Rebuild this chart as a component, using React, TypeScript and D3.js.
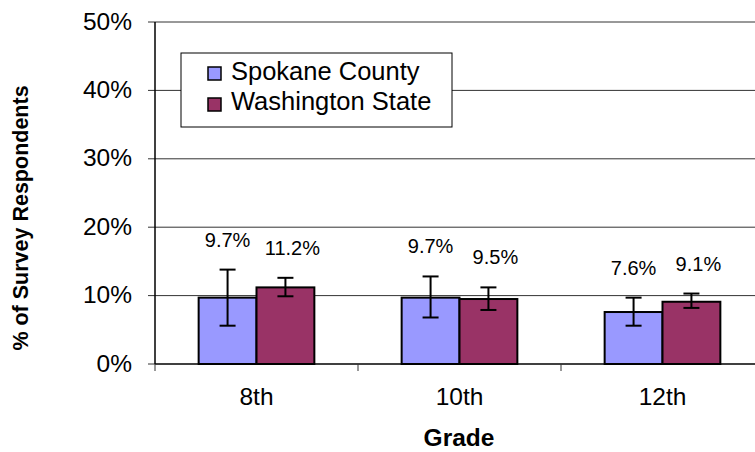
import React from 'react';
import * as d3 from 'd3';

const grades = ['8th', '10th', '12th'];
const seriesNames = ['Spokane County', 'Washington State'];
const spokane = [9.7, 9.7, 7.6];
const washington = [11.2, 9.5, 9.1];
const spokaneLow = [5.6, 6.8, 5.6];
const spokaneHigh = [13.8, 12.8, 9.7];
const washLow = [9.9, 7.9, 8.2];
const washHigh = [12.6, 11.2, 10.3];
const yTicks = [0, 10, 20, 30, 40, 50];
const colors = ['#9999FF', '#993366'];

const W = 755, H = 452;
const left = 155, right = 764, top = 22, bottom = 364;
const FONT = 'Liberation Sans, Arial, sans-serif';

export default function App() {
  const y = d3.scaleLinear().domain([0, 50]).range([bottom, top]);
  const x = d3.scaleBand().domain(grades).range([left, right]).paddingInner(0.43).paddingOuter(0.215);
  const x1 = d3.scaleBand().domain(seriesNames).range([0, x.bandwidth()]);
  const step = x.step();
  const series = [
    { name: seriesNames[0], vals: spokane, lo: spokaneLow, hi: spokaneHigh, dx: 0 },
    { name: seriesNames[1], vals: washington, lo: washLow, hi: washHigh, dx: 7 },
  ];
  return (
    <svg width={W} height={H} style={{ position: 'absolute', left: 0, top: 0, background: '#fff' }} fontFamily={FONT}>
      <rect x={0} y={0} width={W} height={H} fill="#fff" />
      {yTicks.filter(t => t > 0).map(t => (
        <line key={'g' + t} x1={left} x2={W} y1={y(t)} y2={y(t)} stroke="#333" strokeWidth={1} />
      ))}
      {yTicks.map(t => (
        <g key={'t' + t}>
          <line x1={left - 7} x2={left} y1={y(t)} y2={y(t)} stroke="#333" strokeWidth={1} />
          <text x={132} y={y(t) + 7.5} textAnchor="end" fontSize={24.5} fill="#000">{t}%</text>
        </g>
      ))}
      {grades.map((g, i) => (
        <g key={g}>
          {series.map((s, j) => {
            const bx = (x(g) as number) + (x1(s.name) as number);
            const bw = x1.bandwidth();
            const cx = bx + bw / 2;
            return (
              <g key={s.name}>
                <rect x={bx} y={y(s.vals[i])} width={bw} height={y(0) - y(s.vals[i])} fill={colors[j]} stroke="#000" strokeWidth={2} />
                <line x1={cx} x2={cx} y1={y(s.hi[i])} y2={y(s.lo[i])} stroke="#000" strokeWidth={2} />
                <line x1={cx - 8} x2={cx + 8} y1={y(s.hi[i])} y2={y(s.hi[i])} stroke="#000" strokeWidth={2} />
                <line x1={cx - 8} x2={cx + 8} y1={y(s.lo[i])} y2={y(s.lo[i])} stroke="#000" strokeWidth={2} />
                <text x={cx + s.dx} y={y(s.hi[i]) - 23} textAnchor="middle" fontSize={20} fill="#000">{s.vals[i].toFixed(1)}%</text>
              </g>
            );
          })}
          <text x={(x(g) as number) + x.bandwidth() / 2} y={405} textAnchor="middle" fontSize={24.5} fill="#000">{g}</text>
        </g>
      ))}
      <line x1={left} x2={W} y1={y(0)} y2={y(0)} stroke="#000" strokeWidth={1.5} />
      {d3.range(grades.length + 1).map(i => (
        <line key={'ct' + i} x1={left + i * step} x2={left + i * step} y1={y(0)} y2={y(0) + 7} stroke="#333" strokeWidth={1} />
      ))}
      <line x1={left} x2={left} y1={top} y2={bottom} stroke="#000" strokeWidth={1.5} />
      <g>
        <rect x={181} y={53} width={271} height={74} fill="#fff" stroke="#000" strokeWidth={1} />
        {seriesNames.map((n, j) => (
          <g key={n}>
            <rect x={208} y={67 + j * 31} width={13} height={13} fill={colors[j]} stroke="#000" strokeWidth={1.5} />
            <text x={231} y={80 + j * 30} fontSize={25.5} fill="#000">{n}</text>
          </g>
        ))}
      </g>
      <text x={459} y={446} textAnchor="middle" fontSize={24.5} fontWeight="bold" fill="#000">Grade</text>
      <text transform={`translate(28,218) rotate(-90)`} textAnchor="middle" fontSize={21.5} fontWeight="bold" fill="#000">% of Survey Respondents</text>
    </svg>
  );
}
